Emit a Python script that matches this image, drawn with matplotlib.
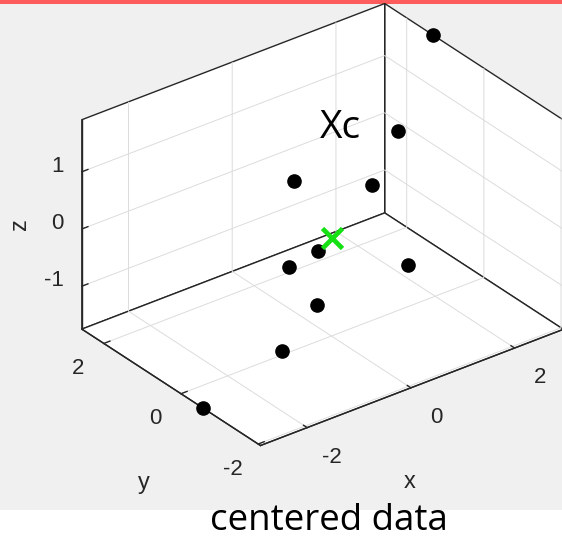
import numpy as np
import matplotlib
matplotlib.use("Agg")
import matplotlib.pyplot as plt
from matplotlib.patches import Rectangle, Arc
from mpl_toolkits.mplot3d import proj3d

# Centered samples (x, y, z)
x = [2.94, 1.51, -0.12, 2.70, -0.93, -0.45, 1.18, -1.42, -2.48, -2.90]
y = [1.31, 0.30, 0.80, 2.57, -0.90, 0.50, -0.40, -1.54, -2.06, -0.58]
z = [1.91, 1.18, 0.65, -1.18, 0.45, -0.61, -0.75, -0.03, -0.24, -1.75]

x_ticks = [-2, 0, 2]
y_ticks = [-2, 0, 2]
z_ticks = [-1, 0, 1]

title_text = "Xc"
caption_text = "centered data"

plt.rcParams["axes.unicode_minus"] = False
plt.rcParams["font.family"] = ["Liberation Sans", "DejaVu Sans"]

W, H = 562, 537
fig = plt.figure(figsize=(W / 100, H / 100), dpi=100)
fig.patch.set_facecolor("white")

# figure window panel and header strip
fig.add_artist(Rectangle((0, 27 / H), 1, 506.3 / H, transform=fig.transFigure,
                         facecolor="#f0f0f0", edgecolor="none", zorder=-5))
fig.add_artist(Rectangle((0, 533.3 / H), 1, 3.7 / H, transform=fig.transFigure,
                         facecolor="#fd5c5c", edgecolor="none", zorder=-4))
# faint logo ring in the lower corner
fig.add_artist(Arc((463, 548), 62, 62, theta1=-10, theta2=150,
                   transform=None, color="#e8e8e8", lw=7, zorder=-6))

ax = fig.add_axes([0, 0, 1, 1], projection="3d", proj_type="ortho")
ax.view_init(elev=30, azim=-127.5)
ax.set_box_aspect((381.0, 292.9, 241.3))
ax.patch.set_visible(False)
ax.computed_zorder = False

edge = "#262626"
for axis in (ax.xaxis, ax.yaxis, ax.zaxis):
    axis.set_pane_color((1, 1, 1, 1))
    axis.pane.set_closed(True)
    axis.pane.set_edgecolor(edge)
    axis.pane.set_linewidth(1.0)
    axis.line.set_color(edge)
    axis.line.set_linewidth(1.0)
    axis._axinfo["grid"].update(color="#dcdcdc", linewidth=0.7)
    axis._axinfo["tick"].update(inward_factor=0.0, outward_factor=0.25)
    axis._axinfo["tick"]["linewidth"] = {True: 1.0, False: 0.5}

ax.set_xlim(min(x), max(x))
ax.set_ylim(min(y), max(y))
ax.set_zlim(min(z), max(z))
ax.set_xticks(x_ticks)
ax.set_yticks(y_ticks)
ax.set_zticks(z_ticks)
for axis in (ax.xaxis, ax.yaxis, ax.zaxis):
    axis.set_ticklabels([])
    axis.set_tick_params(which="both", label1On=False, label2On=False)
    axis.offsetText.set_visible(False)
ax.tick_params(colors=edge)
# unused built-in text slots
for t in (ax.title, ax._left_title, ax._right_title, ax.xaxis.label, ax.yaxis.label):
    t.set_visible(False)

xl, yl, zl = ax.get_xlim(), ax.get_ylim(), ax.get_zlim()

# tick labels, set just outside the front/left box edges
lab_kw = dict(fontsize=16, color=edge)
for t in x_ticks:
    ax.text(t, yl[0] - 0.65, zl[0] - 0.23, str(t), ha="center", va="center", **lab_kw)
for t in y_ticks:
    ax.text(xl[0] - 0.49, t, zl[0] - 0.27, str(t), ha="center", va="center", **lab_kw)
for t in z_ticks:
    ax.text(xl[0] - 0.12, yl[1] + 0.31, t, str(t), ha="right", va="center", **lab_kw)

# axis names
ax.text(np.mean(xl), yl[0] + 0.05, zl[0] - 1.67, "x", ha="center", va="center",
        fontsize=17, color=edge)
ax.text(xl[0] - 0.53, np.mean(yl), zl[0] - 1.49, "y", ha="center", va="center",
        fontsize=17, color=edge)
ax.zaxis.set_rotate_label(False)
ax.set_zlabel("z", fontsize=17, color=edge, rotation=90)

ax.plot(x, y, z, linestyle="none", marker="o", ms=9.5, color="black", zorder=3)
center = np.mean([x, y, z], axis=1)
ax.plot([center[0]], [center[1]], [center[2]], linestyle="none", marker="x",
        ms=15, mew=3.4, color="#14e014", zorder=4)

fig.text(340 / W, 1 - 138 / H, title_text, ha="center", va="baseline",
         fontsize=28, family=["Open Sans", "DejaVu Sans"], color="black", zorder=5)
fig.text(328.5 / W, 1 - 530 / H, caption_text, ha="center", va="baseline",
         fontsize=26.5, family=["Open Sans", "DejaVu Sans"], color="black", zorder=5)

# Place the axes box so its floor/back corners sit at the wanted pixels
corners = [(xl[0], yl[0], zl[0]), (xl[0], yl[1], zl[0]), (xl[1], yl[1], zl[0]),
           (xl[0], yl[1], zl[1]), (xl[1], yl[1], zl[1]), (xl[1], yl[0], zl[0])]
targets = np.array([(261, 91), (81.7, 208.7), (384, 325),
                    (81.7, 417.7), (384, 532), (564.5, 207.5)])
for _ in range(2):
    fig.canvas.draw()
    bb = ax.bbox
    w = bb.width
    cx, cy = (bb.x0 + bb.x1) / 2, (bb.y0 + bb.y1) / 2
    q = []
    for c in corners:
        xs, ys, _ = proj3d.proj_transform(*c, ax.get_proj())
        dx, dy = ax.transData.transform((xs, ys))
        q.append(((dx - cx) / w, (dy - cy) / w))
    q = np.array(q)
    n = len(q)
    A = np.zeros((2 * n, 3))
    b = np.zeros(2 * n)
    A[0::2, 0] = 1
    A[0::2, 2] = q[:, 0]
    b[0::2] = targets[:, 0]
    A[1::2, 1] = 1
    A[1::2, 2] = q[:, 1]
    b[1::2] = targets[:, 1]
    ncx, ncy, s = np.linalg.lstsq(A, b, rcond=None)[0]
    ax.set_position([(ncx - s / 2) / W, (ncy - s / 2) / H, s / W, s / H])

fig.savefig("out.png", dpi=100)
